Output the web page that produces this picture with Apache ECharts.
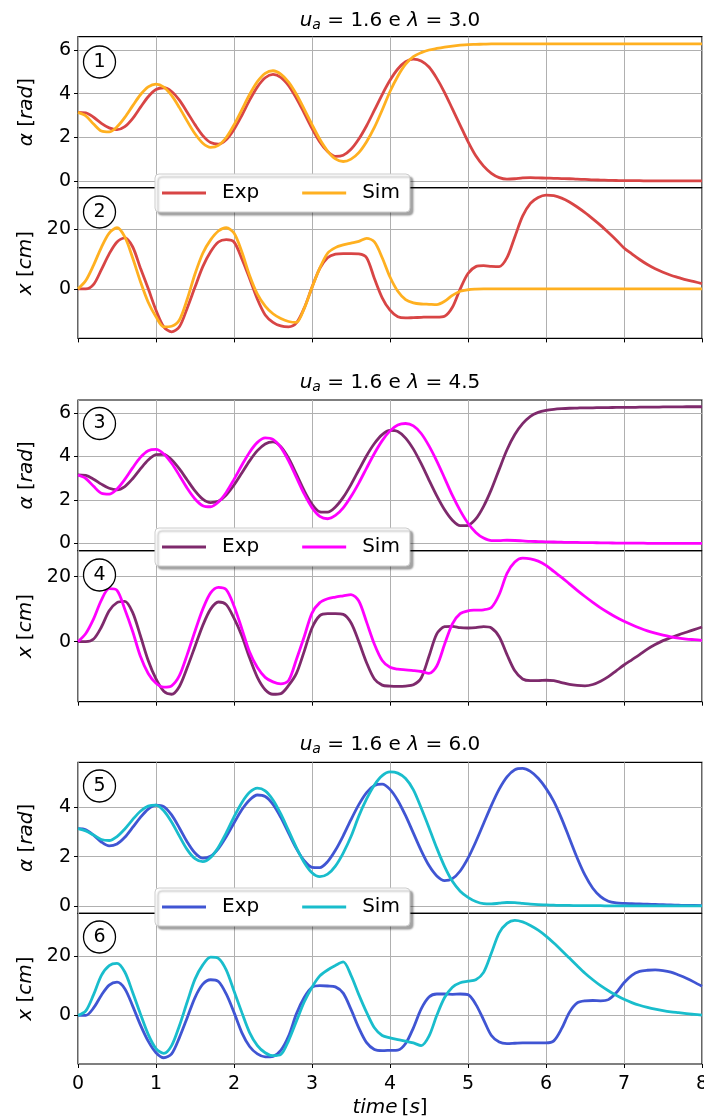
<!DOCTYPE html>
<html><head><meta charset="utf-8">
<script src="https://cdn.jsdelivr.net/npm/echarts@6/dist/echarts.min.js"></script>
<style>html,body{margin:0;padding:0;background:#fff}#c{width:704px;height:1117px}</style>
</head><body><div id="c"></div>
<script>
const time = [0,0.1,0.2,0.3,0.4,0.5,0.6,0.7,0.8,0.9,1,1.1,1.2,1.3,1.4,1.5,1.6,1.7,1.8,1.9,2,2.1,2.2,2.3,2.4,2.5,2.6,2.7,2.8,2.9,3,3.1,3.2,3.3,3.4,3.5,3.6,3.7,3.8,3.9,4,4.1,4.2,4.3,4.4,4.5,4.6,4.7,4.8,4.9,5,5.1,5.2,5.3,5.4,5.5,5.6,5.7,5.8,5.9,6,6.1,6.2,6.3,6.4,6.5,6.6,6.7,6.8,6.9,7,7.1,7.2,7.3,7.4,7.5,7.6,7.7,7.8,7.9,8];

// lambda = 3.0
const alphaExp1 = [3.14,3.12,2.92,2.64,2.43,2.35,2.49,2.86,3.37,3.86,4.19,4.27,4.10,3.70,3.15,2.58,2.08,1.76,1.69,1.89,2.36,3.00,3.70,4.31,4.73,4.88,4.75,4.37,3.79,3.11,2.41,1.79,1.35,1.13,1.18,1.45,1.92,2.53,3.24,3.96,4.61,5.13,5.46,5.58,5.50,5.22,4.70,4.05,3.30,2.55,1.80,1.15,0.68,0.35,0.15,0.08,0.10,0.14,0.15,0.14,0.13,0.12,0.11,0.10,0.08,0.07,0.05,0.04,0.03,0.02,0.01,0.01,0.01,0,0,0,0,0,0,0,0];
const alphaSim1 = [3.14,2.98,2.61,2.29,2.25,2.48,2.91,3.44,3.95,4.31,4.44,4.30,3.92,3.36,2.74,2.16,1.73,1.54,1.63,1.99,2.57,3.26,3.96,4.55,4.93,5.05,4.90,4.53,3.97,3.29,2.58,1.91,1.37,1.01,0.89,1.00,1.30,1.80,2.45,3.25,4.10,4.80,5.35,5.70,5.88,6.00,6.07,6.13,6.18,6.22,6.25,6.26,6.27,6.28,6.28,6.28,6.28,6.28,6.28,6.28,6.28,6.28,6.28,6.28,6.28,6.28,6.28,6.28,6.28,6.28,6.28,6.28,6.28,6.28,6.28,6.28,6.28,6.28,6.28,6.28,6.28];
const xExp1 = [0,0,1.5,6.5,11.8,15.8,17.2,14.2,7.0,0.1,-7.2,-12.8,-14.5,-12.8,-6.5,0.6,7.5,12.5,15.8,16.6,15.8,10.2,3.5,-3.5,-8.8,-11.3,-12.5,-12.8,-11.5,-6.5,0.5,6.9,10.5,11.7,11.9,11.9,11.8,10.5,3.5,-3.0,-7.2,-9.4,-9.8,-9.7,-9.6,-9.5,-9.5,-9.2,-6.2,0.0,5.2,7.5,7.8,7.6,7.5,10.5,17.5,24.5,28.8,30.8,31.6,31.4,30.6,29.3,27.6,25.7,23.6,21.4,19.0,16.5,13.8,11.8,9.9,8.2,6.8,5.6,4.6,3.8,3.0,2.4,1.8];
const xSim1 = [0,2.8,8.0,14.0,18.8,20.6,17.5,10.5,2.5,-4.5,-9.4,-12.8,-12.6,-10.5,-3.5,5.0,12.0,16.5,19.5,20.6,18.8,12.5,4.5,-1.8,-5.8,-8.4,-10.0,-11.0,-11.3,-6.6,0.5,7.0,12.0,13.9,14.8,15.4,16.0,17.0,15.8,10.5,4.0,-0.8,-3.6,-4.7,-5.1,-5.2,-5.3,-4.2,-2.2,-0.8,-0.3,-0.1,0,0,0,0,0,0,0,0,0,0,0,0,0,0,0,0,0,0,0,0,0,0,0,0,0,0,0,0,0];

// lambda = 4.5
const alphaExp2 = [3.14,3.12,2.95,2.72,2.53,2.46,2.61,2.97,3.42,3.83,4.08,4.09,3.84,3.42,2.91,2.41,2.03,1.87,1.93,2.22,2.68,3.23,3.79,4.26,4.57,4.66,4.44,3.91,3.18,2.42,1.80,1.45,1.43,1.67,2.11,2.70,3.37,4.03,4.59,5.00,5.19,5.14,4.84,4.33,3.66,2.91,2.18,1.54,1.06,0.81,0.83,1.12,1.70,2.48,3.40,4.30,5.00,5.50,5.84,6.02,6.11,6.16,6.19,6.21,6.22,6.23,6.23,6.24,6.24,6.25,6.25,6.25,6.26,6.26,6.26,6.27,6.27,6.27,6.28,6.28,6.28];
const alphaSim2 = [3.14,2.98,2.62,2.30,2.26,2.50,2.94,3.47,3.95,4.26,4.32,4.11,3.68,3.12,2.53,2.04,1.73,1.68,1.90,2.34,2.94,3.59,4.19,4.64,4.85,4.78,4.41,3.79,3.03,2.27,1.64,1.24,1.13,1.28,1.63,2.15,2.77,3.46,4.13,4.72,5.17,5.44,5.51,5.40,5.05,4.48,3.78,3.00,2.20,1.50,0.92,0.50,0.24,0.12,0.12,0.14,0.13,0.11,0.09,0.08,0.07,0.06,0.05,0.04,0.04,0.03,0.03,0.02,0.02,0.01,0.01,0.01,0.01,0,0,0,0,0,0,0,0];
const xExp2 = [0,0,0.8,4.5,9.5,12.0,12.4,9.0,1.8,-5.8,-11.5,-15.3,-16.2,-13.8,-8.0,-1.5,5.0,10.0,12.2,11.4,7.2,1.8,-5.0,-11.0,-14.8,-16.2,-16.0,-13.5,-9.8,-3.0,4.2,8.0,8.6,8.6,8.4,5.8,0.0,-6.5,-11.5,-13.4,-13.7,-13.8,-13.7,-13.3,-11.2,-4.5,2.4,4.6,4.7,4.3,4.2,4.3,4.6,4.2,1.5,-4.0,-9.0,-11.5,-12.0,-12.0,-11.9,-12.0,-12.6,-13.2,-13.5,-13.6,-13.2,-12.2,-10.8,-9.0,-7.2,-5.6,-4.0,-2.3,-0.9,0.3,1.2,2.1,2.9,3.7,4.5];
const xSim2 = [0,2.5,7.0,12.8,16.3,15.8,10.0,3.2,-4.5,-9.8,-12.8,-14.0,-13.6,-10.5,-4.0,3.2,10.0,15.0,16.7,16.0,11.0,4.0,-3.2,-8.0,-11.0,-12.4,-13.0,-12.0,-5.5,1.5,8.8,12.0,13.2,13.7,14.1,14.5,12.5,6.0,-0.8,-5.8,-7.9,-8.5,-8.7,-8.9,-9.2,-9.8,-7.5,-0.8,5.5,8.6,9.5,9.7,9.8,10.5,14.5,21.0,24.5,25.7,25.5,24.8,23.5,21.6,19.8,17.8,15.8,13.9,12.1,10.4,8.9,7.5,6.3,5.2,4.2,3.3,2.6,2.0,1.5,1.1,0.8,0.6,0.4];

// lambda = 6.0
const alphaExp3 = [3.14,3.10,2.88,2.60,2.44,2.52,2.79,3.19,3.60,3.94,4.10,4.04,3.70,3.17,2.60,2.15,1.94,2.02,2.33,2.81,3.37,3.91,4.31,4.51,4.45,4.13,3.60,2.96,2.33,1.84,1.57,1.56,1.80,2.26,2.85,3.51,4.12,4.61,4.90,4.95,4.74,4.29,3.67,2.96,2.25,1.64,1.22,1.03,1.11,1.42,1.94,2.61,3.35,4.09,4.75,5.25,5.54,5.59,5.47,5.19,4.78,4.25,3.55,2.75,1.95,1.25,0.72,0.38,0.19,0.12,0.10,0.09,0.08,0.07,0.06,0.05,0.04,0.03,0.02,0.02,0.01];
const alphaSim3 = [3.14,3.05,2.88,2.70,2.66,2.82,3.13,3.51,3.85,4.06,4.10,3.87,3.41,2.84,2.29,1.92,1.80,1.97,2.39,2.97,3.62,4.20,4.62,4.79,4.68,4.31,3.74,3.06,2.37,1.77,1.35,1.19,1.29,1.62,2.15,2.82,3.65,4.35,4.92,5.30,5.45,5.40,5.18,4.72,3.98,3.18,2.35,1.60,1.00,0.60,0.35,0.18,0.09,0.08,0.11,0.14,0.13,0.10,0.07,0.05,0.04,0.03,0.02,0.02,0.01,0.01,0.01,0.01,0,0,0,0,0,0,0,0,0,0,0,0,0];
const xExp3 = [0,0,2.5,6.8,10.2,11.2,9.0,3.2,-3.2,-8.7,-12.6,-14.3,-13.0,-7.5,-0.8,6.0,10.5,12.0,11.4,7.2,1.0,-5.8,-10.5,-13.0,-14.0,-13.8,-11.8,-7.0,0.5,6.0,9.4,10.0,9.9,9.6,7.5,2.0,-4.2,-9.2,-11.5,-11.9,-11.8,-11.7,-9.5,-4.2,2.2,6.2,7.2,7.2,7.1,7.2,7.0,3.7,-1.5,-6.8,-9.0,-9.5,-9.4,-9.3,-9.3,-9.3,-9.3,-8.6,-4.5,1.0,4.2,4.9,5.0,4.9,5.3,7.6,11.0,13.5,14.8,15.2,15.3,15.1,14.6,13.6,12.5,11.2,9.8];
const xSim3 = [0,1.5,7.0,13.5,16.8,17.5,14.6,7.8,0.5,-6.4,-11.2,-12.8,-10.2,-3.5,4.5,12.2,17.0,19.6,19.2,15.3,8.2,1.0,-5.8,-10.2,-12.6,-13.6,-13.2,-8.5,-2.0,4.5,9.5,13.3,15.3,16.8,18.0,13.5,7.0,1.0,-4.2,-6.8,-7.6,-8.2,-8.7,-9.3,-10.2,-7.0,0.0,6.0,9.5,11.0,11.5,12.0,14.5,21.0,27.8,31.0,32.0,31.5,30.3,28.7,26.7,24.4,21.9,19.3,16.7,14.2,12.0,10.0,8.3,6.8,5.4,4.3,3.4,2.7,2.1,1.6,1.2,0.9,0.6,0.3,0.1];

const lambdas = ['3.0','4.5','6.0'];
const alphaTicks = [0,2,4,6];
const alphaTicks3 = [0,2,4];
const xTicks = [0,20];
const seriesNames = ['Exp','Sim'];
const panelLabels = ['1','2','3','4','5','6'];

const FONT = 'DejaVu Sans';
const FS = 20;     // titles, legend, axis names
const FT = 19;     // tick labels
const colors = [['#d84545','#ffb020'],['#7e2a6c','#ff00ff'],['#4055d3','#19bdcc']];

const grids = [
  {top:36.7, height:151}, {top:187.7, height:150.7},
  {top:400, height:150.7}, {top:550.7, height:151},
  {top:762.3, height:151}, {top:913.3, height:150.7}
].map(g => Object.assign({left:78, width:624, show:true, borderColor:'#000', borderWidth:1.2, backgroundColor:'transparent', outerBoundsMode:'none'}, g));

const yRanges = [[-0.31,6.61],[-16.7,34.1],[-0.34,6.59],[-18.5,28.0],[-0.30,5.84],[-16.4,34.4]];
const yTickSets = [alphaTicks, xTicks, alphaTicks, xTicks, alphaTicks3, xTicks];

const richName = {
  g:{fontStyle:'italic', fontFamily:FONT, fontSize:FS, color:'#000'},
  n:{fontStyle:'normal', fontFamily:FONT, fontSize:FS, color:'#000'}
};
const gridLine = {show:true, lineStyle:{color:'#b0b0b0', width:1}};

const xAxes = grids.map((g,i) => ({
  type:'value', gridIndex:i, min:0, max:8, interval:1,
  axisLine:{show:false, onZero:false},
  axisTick:{show:(i%2===1), length:4, lineStyle:{color:'#000', width:1}},
  axisLabel:{show:(i===5), fontFamily:FONT, fontSize:FT, color:'#000', margin:11},
  splitLine:gridLine,
  name: i===5 ? '{g|time}{n|\u2009[}{g|s}{n|]}' : '',
  nameLocation:'middle', nameGap:34,
  nameTextStyle:{fontFamily:FONT, fontSize:FS, color:'#000', rich:richName}
}));

const yAxes = grids.map((g,i) => ({
  type:'value', gridIndex:i, min:yRanges[i][0], max:yRanges[i][1],
  axisLine:{show:false},
  axisTick:{show:true, length:4, lineStyle:{color:'#000', width:1}, customValues:yTickSets[i]},
  axisLabel:{fontFamily:FONT, fontSize:FT, color:'#000', margin:7, customValues:yTickSets[i]},
  splitLine:gridLine,
  name: i%2===0 ? '{g|α}{n| [}{g|rad}{n|]}' : '{g|x}{n| [}{g|cm}{n|]}',
  nameLocation:'middle', nameRotate:90, nameGap:41,
  nameTextStyle:{fontFamily:FONT, fontSize:FS, color:'#000', rich:richName}
}));

const groupData = [
  [alphaExp1, alphaSim1, xExp1, xSim1],
  [alphaExp2, alphaSim2, xExp2, xSim2],
  [alphaExp3, alphaSim3, xExp3, xSim3]
];

const series = [];
groupData.forEach((gd, k) => {
  [[0,0],[1,1],[2,0],[3,1]].forEach(([di, si]) => {
    const panel = 2*k + (di>=2 ? 1 : 0);
    series.push({
      type:'line', name: seriesNames[si] + (k+1),
      xAxisIndex: panel, yAxisIndex: panel,
      data: time.map((t,j) => [t, gd[di][j]]),
      showSymbol:false, symbol:'none', smooth:0.3,
      lineStyle:{color:colors[k][si], width:2.8},
      itemStyle:{color:colors[k][si]},
      z: 2 + si
    });
  });
});

const legendTops = [174, 528, 888];
const legends = legendTops.map((top,k) => ({
  data: seriesNames.map(n => n + (k+1)),
  left:155, top:top, orient:'horizontal',
  icon:'rect', itemWidth:44, itemHeight:3, itemGap:43,
  padding:[9,10,9,7],
  backgroundColor:'#fff', borderColor:'#cccccc', borderWidth:1, borderRadius:4,
  shadowColor:'rgba(0,0,0,0.35)', shadowBlur:2, shadowOffsetX:3, shadowOffsetY:3,
  formatter: name => '{t|' + name.replace(/\d$/,'') + '}',
  textStyle:{fontFamily:FONT, fontSize:FS, color:'#000', rich:{t:{fontFamily:FONT, fontSize:FS, color:'#000', padding:[0,0,0,11]}}},
  selectedMode:false, z:20
}));

const titleTops = [8.7, 371, 733];
const titles = lambdas.map((lam,k) => ({
  text: '{i|u}{s|a}{n| = 1.6 e }{i|λ}{n| = ' + lam + '}',
  left:390, top:titleTops[k], textAlign:'center', padding:0,
  textStyle:{fontFamily:FONT, fontSize:FS, color:'#000', fontWeight:'normal',
    rich:{
      i:{fontStyle:'italic', fontFamily:FONT, fontSize:FS, color:'#000', lineHeight:24},
      n:{fontFamily:FONT, fontSize:FS, color:'#000', lineHeight:24},
      s:{fontStyle:'italic', fontFamily:FONT, fontSize:14, color:'#000', lineHeight:13, padding:[9,0,0,0]}
    }}
}));

const circleCenters = [62, 212, 423.5, 575, 786, 937];
const graphic = [];
circleCenters.forEach((cy,i) => {
  graphic.push({type:'circle', shape:{cx:99.5, cy:cy, r:16}, style:{fill:'#fff', stroke:'#000', lineWidth:1.3}, z:30});
  graphic.push({type:'text', x:99.5, y:cy, style:{text:panelLabels[i], font:'19px "DejaVu Sans"', fill:'#000', align:'center', verticalAlign:'middle'}, z:31});
});

const chart = echarts.init(document.getElementById('c'), null, {renderer:'canvas', width:704, height:1117});
chart.setOption({
  animation:false,
  backgroundColor:'#fff',
  title: titles,
  grid: grids,
  xAxis: xAxes,
  yAxis: yAxes,
  legend: legends,
  series: series,
  graphic: graphic
});
</script>
</body></html>
